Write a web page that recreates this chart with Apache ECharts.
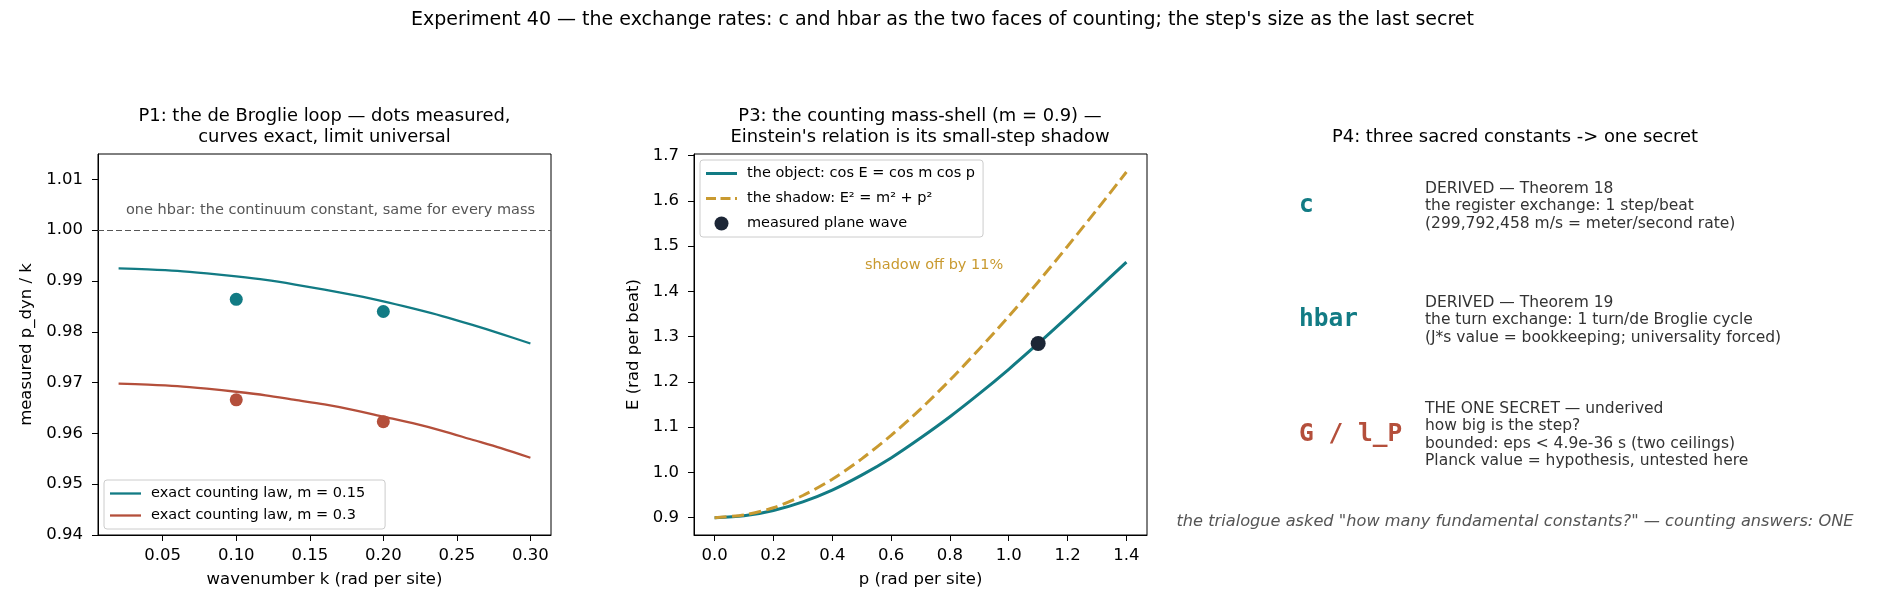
<!DOCTYPE html>
<html>
<head>
<meta charset="utf-8">
<title>Experiment 40 — the exchange rates</title>
<script src="https://cdn.jsdelivr.net/npm/echarts@6/dist/echarts.min.js"></script>
<style>
  html, body { margin: 0; padding: 0; background: #fff; }
  #chart { width: 1885px; height: 611px; }
</style>
</head>
<body>
<div id="chart"></div>
<script>
// P1: p_dyn / k against wavenumber
const kGrid = [0.02, 0.04, 0.06, 0.08, 0.10, 0.12, 0.14, 0.16, 0.18, 0.20, 0.22, 0.24, 0.26, 0.28, 0.30]
const lawM015 = [0.9925, 0.9923, 0.9920, 0.9915, 0.9909, 0.9902, 0.9893, 0.9883, 0.9872, 0.9860, 0.9846, 0.9831, 0.9814, 0.9796, 0.9777]
const lawM03 = [0.9698, 0.9696, 0.9693, 0.9688, 0.9682, 0.9675, 0.9666, 0.9657, 0.9646, 0.9633, 0.9620, 0.9605, 0.9588, 0.9571, 0.9552]
const kMeasured = [0.10, 0.20]
const dotsM015 = [0.9864, 0.9840]
const dotsM03 = [0.9666, 0.9623]
const hbarLevel = 1.00
const p1XTicks = [0.05, 0.10, 0.15, 0.20, 0.25, 0.30]
const p1YTicks = [0.94, 0.95, 0.96, 0.97, 0.98, 0.99, 1.00, 1.01]

// P3: mass shell m = 0.9
const pGrid = [0, 0.1, 0.2, 0.3, 0.4, 0.5, 0.6, 0.7, 0.8, 0.9, 1.0, 1.1, 1.2, 1.3, 1.4]
const shellObject = [0.900, 0.904, 0.916, 0.935, 0.961, 0.994, 1.032, 1.076, 1.123, 1.174, 1.228, 1.285, 1.344, 1.404, 1.465]
const shellShadow = [0.900, 0.906, 0.922, 0.949, 0.985, 1.030, 1.082, 1.140, 1.204, 1.273, 1.345, 1.421, 1.500, 1.581, 1.664]
const planeWaveP = [1.1]
const planeWaveE = [1.285]
const p3XTicks = [0, 0.2, 0.4, 0.6, 0.8, 1.0, 1.2, 1.4]
const p3YTicks = [0.9, 1.0, 1.1, 1.2, 1.3, 1.4, 1.5, 1.6, 1.7]

// P4: the constants
const constSymbols = ['c', 'hbar', 'G / l_P']
const constNotes = [
  'DERIVED — Theorem 18\nthe register exchange: 1 step/beat\n(299,792,458 m/s = meter/second rate)',
  'DERIVED — Theorem 19\nthe turn exchange: 1 turn/de Broglie cycle\n(J*s value = bookkeeping; universality forced)',
  'THE ONE SECRET — underived\nhow big is the step?\nbounded: eps < 4.9e-36 s (two ceilings)\nPlanck value = hypothesis, untested here'
]

const TEAL = '#127b84'
const RUST = '#b44f3b'
const GOLD = '#c99a30'
const NAVY = '#1c2636'
const FONT = '"DejaVu Sans", sans-serif'
const MONO = '"DejaVu Sans Mono", monospace'

// legend handles: plain strokes instead of the line+symbol default
const SOLID_THIN = 'path://M0,0H31V2.3H0Z'
const SOLID = 'path://M0,0H31V3H0Z'
const DASHED = 'path://M0,0H10V3H0ZM14.5,0H24.5V3H14.5ZM29,0H31V3H29Z'

const zip = (xs, ys) => xs.map((x, i) => [x, ys[i]])

function valueAxis(gridIndex, min, max, ticks, digits, name, nameGap, margin) {
  return {
    gridIndex, type: 'value', min, max, name,
    nameLocation: 'middle', nameGap,
    nameTextStyle: { color: '#000', fontFamily: FONT, fontSize: 16.5 },
    splitLine: { show: false },
    axisLine: { show: true, onZero: false, lineStyle: { color: '#000', width: 1 } },
    axisTick: { show: true, length: 6, customValues: ticks, lineStyle: { color: '#000', width: 1 } },
    axisLabel: {
      customValues: ticks, margin, color: '#000', fontFamily: FONT, fontSize: 16.5,
      formatter: (v) => Number(v).toFixed(digits)
    }
  }
}

function gridBox(left) {
  return {
    left, top: 154, width: 453, height: 381,
    show: true, borderColor: '#000', borderWidth: 1, backgroundColor: 'transparent',
    containLabel: false, outerBoundsMode: 'none'
  }
}

function legendBox(left, top, items, gap, padRight) {
  return {
    left, top, orient: 'vertical', data: items,
    itemWidth: 31, itemHeight: 14, itemGap: gap,
    padding: [6, padRight, 6, 6],
    backgroundColor: 'rgba(255,255,255,0.8)', borderColor: '#ccc', borderWidth: 1, borderRadius: 3,
    textStyle: { color: '#000', fontFamily: FONT, fontSize: 14.5, padding: [0, 0, 0, 5] },
    selectedMode: false
  }
}

function text(x, y, str, opts) {
  return {
    type: 'text', silent: true,
    style: Object.assign({
      x, y, text: str, fill: '#000', fontFamily: FONT, fontSize: 16.5,
      align: 'left', verticalAlign: 'middle'
    }, opts || {})
  }
}

const rowY = [206, 320, 435]
const graphics = [
  text(942.5, 20, 'Experiment 40 — the exchange rates: c and hbar as the two faces of counting; the step\'s size as the last secret', { align: 'center', fontSize: 19 }),
  text(324.5, 126.5, 'P1: the de Broglie loop — dots measured,\ncurves exact, limit universal', { align: 'center', fontSize: 17.9, lineHeight: 21 }),
  text(920, 126.5, 'P3: the counting mass-shell (m = 0.9) —\nEinstein\'s relation is its small-step shadow', { align: 'center', fontSize: 17.9, lineHeight: 21 }),
  text(1515, 137, 'P4: three sacred constants -> one secret', { align: 'center', fontSize: 17.9 }),
  text(126, 210, 'one hbar: the continuum constant, same for every mass', { fill: '#555', fontSize: 14.5 }),
  text(865, 265, 'shadow off by 11%', { fill: GOLD, fontSize: 14.5 }),
  text(1515, 522, 'the trialogue asked "how many fundamental constants?" — counting answers: ONE', { align: 'center', fill: '#555', fontSize: 16.2, fontStyle: 'italic' })
]
constSymbols.forEach((s, i) => {
  graphics.push(text(1299, rowY[i], s, { fill: i < 2 ? TEAL : RUST, fontFamily: MONO, fontWeight: 'bold', fontSize: 24.5 }))
  graphics.push(text(1425, rowY[i], constNotes[i], { fill: '#333', fontSize: 15.5, lineHeight: 17.5 }))
})

const option = {
  animation: false,
  backgroundColor: '#fff',
  grid: [gridBox(98), gridBox(694)],
  xAxis: [
    valueAxis(0, 0.006, 0.314, p1XTicks, 2, 'wavenumber k (rad per site)', 36, 12),
    valueAxis(1, -0.07, 1.47, p3XTicks, 1, 'p (rad per site)', 36, 12)
  ],
  yAxis: [
    valueAxis(0, 0.94, 1.015, p1YTicks, 2, 'measured p_dyn / k', 63, 15),
    valueAxis(1, 0.8617, 1.7038, p3YTicks, 1, 'E (rad per beat)', 52, 15)
  ],
  legend: [
    legendBox(104, 480, [
      { name: 'exact counting law, m = 0.15', icon: SOLID_THIN },
      { name: 'exact counting law, m = 0.3', icon: SOLID_THIN }
    ], 7, 20),
    legendBox(700, 160, [
      { name: 'the object: cos E = cos m cos p', icon: SOLID },
      { name: 'the shadow: E² = m² + p²', icon: DASHED },
      { name: 'measured plane wave', icon: 'circle' }
    ], 10, 8)
  ],
  series: [
    {
      name: 'exact counting law, m = 0.15', type: 'line', xAxisIndex: 0, yAxisIndex: 0,
      data: zip(kGrid, lawM015), smooth: 0.3, symbol: 'none',
      lineStyle: { color: TEAL, width: 2.3 }, itemStyle: { color: TEAL },
      markLine: {
        silent: true, symbol: ['none', 'none'], label: { show: false },
        lineStyle: { color: '#555', type: [6, 3], width: 1 },
        data: [{ yAxis: hbarLevel }]
      }
    },
    {
      name: 'exact counting law, m = 0.3', type: 'line', xAxisIndex: 0, yAxisIndex: 0,
      data: zip(kGrid, lawM03), smooth: 0.3, symbol: 'none',
      lineStyle: { color: RUST, width: 2.3 }, itemStyle: { color: RUST }
    },
    {
      name: 'dots m=0.15', type: 'scatter', xAxisIndex: 0, yAxisIndex: 0,
      data: zip(kMeasured, dotsM015), symbolSize: 13, itemStyle: { color: TEAL, opacity: 1 }
    },
    {
      name: 'dots m=0.3', type: 'scatter', xAxisIndex: 0, yAxisIndex: 0,
      data: zip(kMeasured, dotsM03), symbolSize: 13, itemStyle: { color: RUST, opacity: 1 }
    },
    {
      name: 'the object: cos E = cos m cos p', type: 'line', xAxisIndex: 1, yAxisIndex: 1,
      data: zip(pGrid, shellObject), smooth: 0.3, symbol: 'none',
      lineStyle: { color: TEAL, width: 3 }, itemStyle: { color: TEAL }
    },
    {
      name: 'the shadow: E² = m² + p²', type: 'line', xAxisIndex: 1, yAxisIndex: 1,
      data: zip(pGrid, shellShadow), smooth: 0.3, symbol: 'none',
      lineStyle: { color: GOLD, width: 3, type: [12, 5.5] }, itemStyle: { color: GOLD }
    },
    {
      name: 'measured plane wave', type: 'scatter', xAxisIndex: 1, yAxisIndex: 1,
      data: zip(planeWaveP, planeWaveE), symbolSize: 15, z: 5,
      itemStyle: { color: NAVY, opacity: 1 }
    }
  ],
  graphic: graphics
}

const chart = echarts.init(document.getElementById('chart'), null, { renderer: 'canvas' })
chart.setOption(option)
</script>
</body>
</html>
